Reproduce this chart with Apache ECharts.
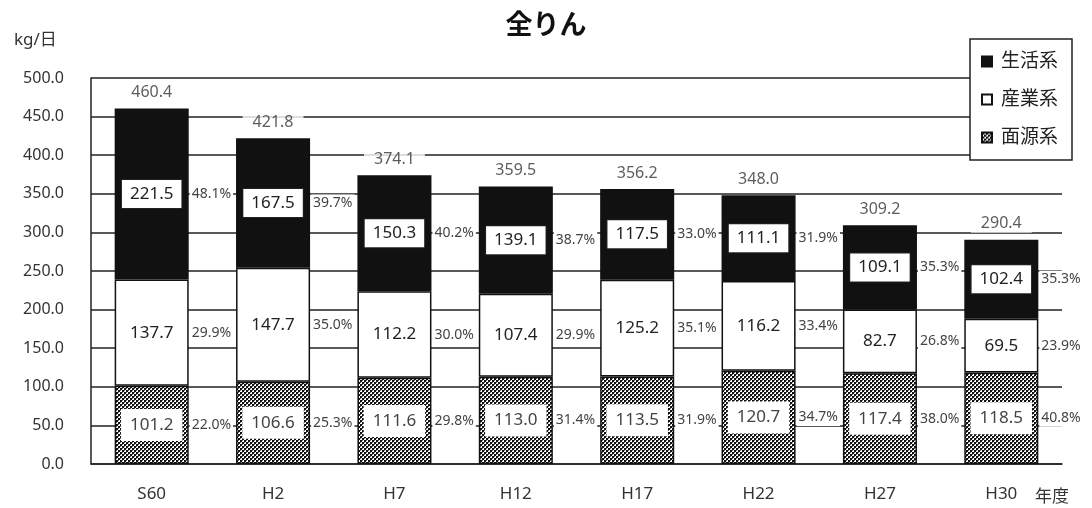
<!DOCTYPE html>
<html><head><meta charset="utf-8">
<script src="https://cdn.jsdelivr.net/npm/echarts@6/dist/echarts.min.js"></script>
<style>html,body{margin:0;padding:0;background:#fff}#c{width:1092px;height:508px}</style>
</head><body><div id="c"></div>
<script>
var categories = ['S60','H2','H7','H12','H17','H22','H27','H30'];
var seikatsu = [221.5,167.5,150.3,139.1,117.5,111.1,109.1,102.4];
var sangyo   = [137.7,147.7,112.2,107.4,125.2,116.2,82.7,69.5];
var menggen  = [101.2,106.6,111.6,113.0,113.5,120.7,117.4,118.5];
var totals   = [460.4,421.8,374.1,359.5,356.2,348.0,309.2,290.4];
var pctSeikatsu = ['48.1%','39.7%','40.2%','38.7%','33.0%','31.9%','35.3%','35.3%'];
var pctSangyo   = ['29.9%','35.0%','30.0%','29.9%','35.1%','33.4%','26.8%','23.9%'];
var pctMengen   = ['22.0%','25.3%','29.8%','31.4%','31.9%','34.7%','38.0%','40.8%'];
var yTicks = [0,50,100,150,200,250,300,350,400,450,500];

var FONT = '"Noto Sans","Noto Sans CJK JP",sans-serif';
var pc = document.createElement('canvas');
pc.width = 4; pc.height = 4;
var g = pc.getContext('2d');
g.fillStyle = '#fff'; g.fillRect(0,0,4,4);
g.fillStyle = '#111'; g.fillRect(0,0,2,2); g.fillRect(2,2,2,2);
g.fillStyle = '#666'; g.fillRect(2,0,1,1); g.fillRect(0,2,1,1);
var pattern = {image: pc, repeat: 'repeat'};

var chart = echarts.init(document.getElementById('c'), null, {renderer:'canvas'});
var BW = '61%';
function pctSeries(name, data, labels){
  return {
    name: name, type:'bar', stack:'pct', data: data, barWidth: BW, barGap:'-100%',
    itemStyle:{color:'rgba(0,0,0,0)', borderWidth:0}, silent:true, z:5,
    label:{show:true, position:'right', distance:1, formatter:function(p){return labels[p.dataIndex];},
      fontFamily:FONT, fontSize:14, color:'#444', backgroundColor:'#fff', padding:[2,2,1,2]}
  };
}
chart.setOption({
  animation:false,
  title:[
    {text:'全りん', left:'center', top:8, textStyle:{fontFamily:FONT, fontSize:27, fontWeight:'bold', color:'#111'}},
    {text:'kg/日', left:9, top:27, textStyle:{fontFamily:FONT, fontSize:17, fontWeight:'normal', color:'#333'}},
    {text:'年度', left:1030, top:484, textStyle:{fontFamily:FONT, fontSize:17, fontWeight:'normal', color:'#333'}}
  ],
  legend:{
    data:['生活系','産業系','面源系'], orient:'vertical', left:970, top:39, icon:'rect',
    padding:[13,14,13,11], itemGap:19, itemWidth:10, itemHeight:10,
    backgroundColor:'#fff', borderColor:'#222', borderWidth:1.5, borderRadius:0,
    textStyle:{fontFamily:FONT, fontSize:19, color:'#222', padding:[0,0,0,4]},
    z:20
  },
  grid:{left:91, right:30, top:78, bottom:44, containLabel:false},
  xAxis:{type:'category', data:categories,
    axisLine:{lineStyle:{color:'#222', width:1.5}}, axisTick:{show:false},
    axisLabel:{fontFamily:FONT, fontSize:17, color:'#333', margin:22}},
  yAxis:{type:'value', min:0, max:500, interval:50,
    axisLine:{show:true, lineStyle:{color:'#222', width:1.5}}, axisTick:{show:false},
    splitLine:{lineStyle:{color:'#222', width:1.5}},
    axisLabel:{fontFamily:FONT, fontSize:16, color:'#333', margin:27,
      formatter:function(v){return v.toFixed(1);}}},
  series:[
    {name:'面源系', type:'bar', stack:'v', data:menggen, barWidth:BW, barGap:'-100%', z:3,
      itemStyle:{color:pattern, borderColor:'#111', borderWidth:1.5},
      label:{show:true, position:'inside', formatter:function(p){return p.value.toFixed(1);},
        fontFamily:FONT, fontSize:17, color:'#444', backgroundColor:'#fff', padding:[8,9,7,9]}},
    {name:'産業系', type:'bar', stack:'v', data:sangyo, barWidth:BW, barGap:'-100%', z:3,
      itemStyle:{color:'#fff', borderColor:'#111', borderWidth:1.5},
      label:{show:true, position:'inside', formatter:function(p){return p.value.toFixed(1);},
        fontFamily:FONT, fontSize:17, color:'#222'}},
    {name:'生活系', type:'bar', stack:'v', data:seikatsu, barWidth:BW, barGap:'-100%', z:3,
      itemStyle:{color:'#111', borderColor:'#111', borderWidth:1.5},
      label:{show:true, position:'inside', formatter:function(p){return p.value.toFixed(1);},
        fontFamily:FONT, fontSize:17, color:'#222', backgroundColor:'#fff',
        borderColor:'#222', borderWidth:1, padding:[6,8,5,8]}},
    pctSeries('p1', menggen, pctMengen),
    pctSeries('p2', sangyo, pctSangyo),
    pctSeries('p3', seikatsu, pctSeikatsu),
    {name:'total', type:'scatter', data:totals, symbolSize:0, z:6, silent:true,
      label:{show:true, position:'top', distance:7, formatter:function(p){return p.value.toFixed(1);},
        fontFamily:FONT, fontSize:16, color:'#333', backgroundColor:'#fff', padding:[2,10,1,10]}}
  ]
});
</script></body></html>
